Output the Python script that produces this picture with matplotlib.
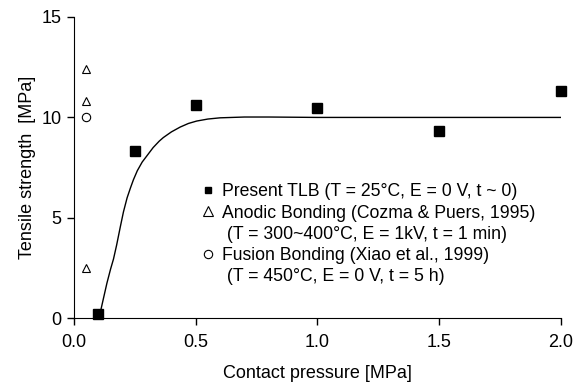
import matplotlib.pyplot as plt
from matplotlib.lines import Line2D

plt.rcParams['font.family'] = ['Liberation Sans', 'DejaVu Sans']

# Present TLB data
tlb_pressure = [0.1, 0.25, 0.5, 1.0, 1.5, 2.0]
tlb_strength = [0.2, 8.35, 10.6, 10.45, 9.3, 11.3]

# Anodic bonding (Cozma & Puers)
anodic_pressure = [0.05, 0.05, 0.05]
anodic_strength = [12.4, 10.8, 2.5]

# Fusion bonding (Xiao et al.)
fusion_pressure = [0.05]
fusion_strength = [10.0]

# Fitted trend line
fit_pressure = [0.100, 0.107, 0.120, 0.135, 0.150, 0.162, 0.175, 0.190, 0.203,
                0.218, 0.232, 0.244, 0.260, 0.280, 0.300, 0.325, 0.350, 0.367,
                0.400, 0.436, 0.470, 0.504, 0.550, 0.600, 0.650, 0.700, 0.800,
                1.0, 1.5, 2.0]
fit_strength = [0.0, 0.25, 0.95, 1.75, 2.45, 2.95, 3.65, 4.55, 5.3,
                6.0, 6.5, 6.9, 7.35, 7.78, 8.1, 8.5, 8.82, 9.0,
                9.28, 9.52, 9.7, 9.82, 9.92, 9.98, 10.0, 10.02, 10.02,
                10.0, 10.0, 10.0]

fig = plt.figure(figsize=(5.83, 3.85), dpi=100)
ax = fig.add_axes([0.127, 0.173, 0.835, 0.783])

ax.plot(fit_pressure, fit_strength, color='black', lw=1.0)
ax.plot(tlb_pressure, tlb_strength, 's', color='black', ms=7, clip_on=False, zorder=3)
ax.plot(anodic_pressure, anodic_strength, '^', mfc='white', mec='black',
        ms=6, mew=0.8, ls='none')
ax.plot(fusion_pressure, fusion_strength, 'o', mfc='white', mec='black',
        ms=6, mew=0.8, ls='none')

ax.set_xlim(0, 2.0)
ax.set_ylim(0, 15)
ax.set_xticks([0, 0.5, 1.0, 1.5, 2.0])
ax.set_xticklabels(['0.0', '0.5', '1.0', '1.5', '2.0'])
ax.set_yticks([0, 5, 10, 15])
ax.tick_params(direction='out', length=5, width=1, labelsize=13)
ax.tick_params(axis='x', pad=6.5)
ax.tick_params(axis='y', pad=4)
ax.spines['top'].set_visible(False)
ax.spines['right'].set_visible(False)

ax.set_xlabel('Contact pressure [MPa]', fontsize=13, labelpad=10)
ax.set_ylabel('Tensile strength  [MPa]', fontsize=13, labelpad=4)

blank = Line2D([], [], ls='none', marker='none')
handles = [
    Line2D([], [], ls='none', marker='s', color='black', ms=5),
    Line2D([], [], ls='none', marker='^', mfc='white', mec='black', ms=6.5, mew=0.8),
    blank,
    Line2D([], [], ls='none', marker='o', mfc='white', mec='black', ms=6, mew=0.8),
    blank,
]
labels = [
    'Present TLB (T = 25°C, E = 0 V, t ~ 0)',
    'Anodic Bonding (Cozma & Puers, 1995)',
    ' (T = 300~400°C, E = 1kV, t = 1 min)',
    'Fusion Bonding (Xiao et al., 1999)',
    ' (T = 450°C, E = 0 V, t = 5 h)',
]
ax.legend(handles, labels, loc='upper left', bbox_to_anchor=(0.26, 0.448),
          frameon=False, fontsize=12.7, handlelength=0.8, handletextpad=0.43,
          labelspacing=0.24, borderpad=0, borderaxespad=0)

fig.savefig('out.png')
